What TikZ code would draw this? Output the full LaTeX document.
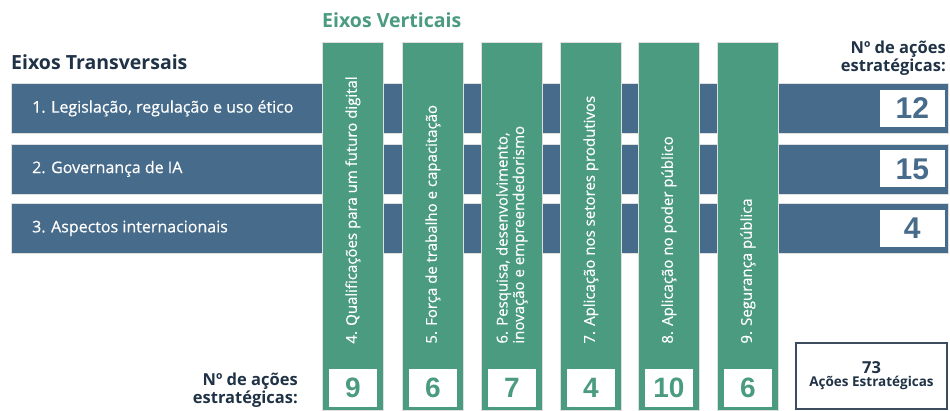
\documentclass[tikz,border=0pt]{standalone}
\usepackage{fontspec}
\setmainfont{Open Sans}
\newfontfamily\numfont{Liberation Sans}
\newfontfamily\medfont{Open Sans}[FakeBold=0.5]
\usetikzlibrary{positioning}
\definecolor{axblue}{HTML}{476B8B}
\definecolor{axgreen}{HTML}{4A9B7F}
\definecolor{axdark}{HTML}{1F3246}
\definecolor{axframe}{HTML}{3C4B5E}

\tikzset{
  hbar/.style={fill=axblue, draw=gray!25, line width=0.8pt, anchor=north west,
    minimum width=937pt, minimum height=50pt, inner sep=0pt},
  vcol/.style={fill=axgreen, draw=gray!25, line width=0.8pt, anchor=north west,
    minimum width=61pt, minimum height=368pt, inner sep=0pt},
  hlabel/.style={anchor=west, text=white, inner sep=0pt,
    font=\medfont\fontsize{16}{19}\selectfont},
  vlabel/.style={rotate=90, anchor=west, text=white, inner sep=0pt, align=left,
    font=\medfont\fontsize{15}{16.5}\selectfont},
  rnum/.style={fill=white, minimum width=65pt, minimum height=37pt, inner sep=0pt,
    text=axblue, font=\numfont\bfseries\fontsize{30}{30}\selectfont},
  bnum/.style={fill=white, minimum width=48pt, minimum height=38pt, inner sep=0pt,
    text=axgreen, font=\numfont\bfseries\fontsize{28}{28}\selectfont},
  heading/.style={anchor=west, inner sep=0pt, font=\bfseries\fontsize{19.5}{22}\selectfont},
  countlabel/.style={anchor=east, align=right, text=axdark, inner sep=0pt,
    font=\bfseries\fontsize{16.5}{18.5}\selectfont},
}

\begin{document}
\begin{tikzpicture}[x=1pt, y=-1pt]
  \useasboundingbox (0,0) rectangle (950,410);

  % Headings
  \node[heading, text=axdark] (htrans) at (11,62) {Eixos Transversais};
  \node[heading, text=axgreen] (hvert) at (322,20) {Eixos Verticais};
  \node[countlabel] (hcount) at (946,58) {Nº de ações\\estratégicas:};
  \node[countlabel] (bcount) at (298,390) {Nº de ações\\estratégicas:};

  % Transversal axes
  \node[hbar] (t1) at (11,83) {};
  \node[hbar] (t2) at (11,143.5) {};
  \node[hbar] (t3) at (11,203) {};
  \node[hlabel] (l1) at ([xshift=21pt]t1.west) {1. Legislação, regulação e uso ético};
  \node[hlabel] (l2) at ([xshift=21pt]t2.west) {2. Governança de IA};
  \node[hlabel] (l3) at ([xshift=21pt]t3.west) {3. Aspectos internacionais};

  % Vertical axes
  \node[vcol] (c4) at (322,42) {};
  \node[vcol] (c5) at (402,42) {};
  \node[vcol] (c6) at (481,42) {};
  \node[vcol] (c7) at (560,42) {};
  \node[vcol] (c8) at (638,42) {};
  \node[vcol] (c9) at (717,42) {};
  \node[vlabel] (l4) at ([yshift=67pt]c4.south) {4. Qualificações para um futuro digital};
  \node[vlabel] (l5) at ([yshift=67pt]c5.south) {5. Força de trabalho e capacitação};
  \node[vlabel] (l6) at ([yshift=67pt]c6.south) {6. Pesquisa, desenvolvimento,\\inovação e empreendedorismo};
  \node[vlabel] (l7) at ([yshift=67pt]c7.south) {7. Aplicação nos setores produtivos};
  \node[vlabel] (l8) at ([yshift=67pt]c8.south) {8. Aplicação no poder público};
  \node[vlabel] (l9) at ([yshift=67pt]c9.south) {9. Segurança pública};

  % Number of actions per axis
  \node[rnum] (n1) at ([xshift=-36.5pt]t1.east) {12};
  \node[rnum] (n2) at ([xshift=-36.5pt]t2.east) {15};
  \node[rnum] (n3) at ([xshift=-36.5pt]t3.east) {4};
  \node[bnum] (n4) at ([yshift=23pt]c4.south) {9};
  \node[bnum] (n5) at ([yshift=23pt]c5.south) {6};
  \node[bnum] (n6) at ([yshift=23pt]c6.south) {7};
  \node[bnum] (n7) at ([yshift=23pt]c7.south) {4};
  \node[bnum] (n8) at ([yshift=23pt]c8.south) {10};
  \node[bnum] (n9) at ([yshift=23pt]c9.south) {6};

  % Total
  \node[draw=axframe, line width=1.2pt, minimum width=151pt, minimum height=66pt,
    align=center, text=axdark, font=\bfseries] (total) at (871.5,376)
    {{\fontsize{16.5}{19}\selectfont 73}\\[1pt]{\fontsize{13.5}{16}\selectfont Ações Estratégicas}};
\end{tikzpicture}
\end{document}
